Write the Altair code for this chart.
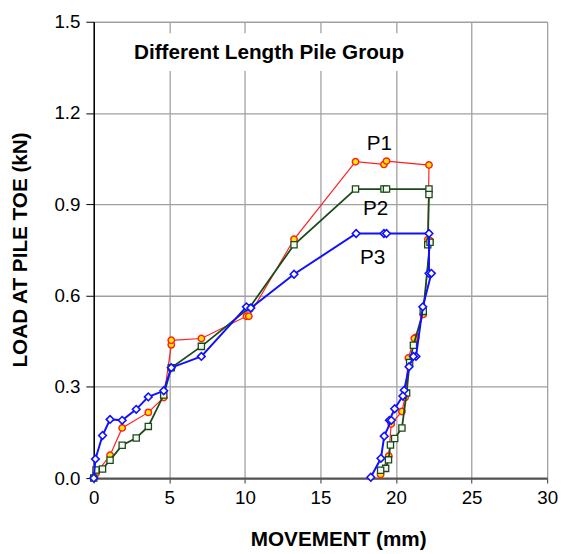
import altair as alt
import pandas as pd

# ---- data ----
p1_mm = [0.0, 0.15, 1.08, 1.88, 3.61, 4.63, 5.13, 5.13, 7.12, 10.1, 10.26, 13.25,
         17.32, 19.2, 19.37, 22.18, 22.11, 22.25, 21.8, 21.3, 21.21, 20.82, 20.6,
         20.39, 19.68, 19.52, 18.98]
p1_kn = [0.0, 0.015, 0.075, 0.165, 0.216, 0.265, 0.438, 0.453, 0.459, 0.532, 0.532, 0.785,
         1.04, 1.031, 1.042, 1.029, 0.784, 0.78, 0.538, 0.462, 0.459, 0.395, 0.265,
         0.219, 0.178, 0.073, 0.012]

p2_mm = [0.0, 0.15, 0.58, 1.08, 1.88, 2.81, 3.61, 4.63, 5.13, 7.12, 10.3, 13.25,
         17.32, 19.2, 19.37, 22.18, 22.18, 22.1, 22.25, 21.8, 21.15, 20.9, 20.7,
         20.39, 19.91, 19.63, 19.5, 19.31, 18.98]
p2_kn = [0.0, 0.027, 0.03, 0.059, 0.108, 0.132, 0.17, 0.273, 0.363, 0.433, 0.56, 0.767,
         0.95, 0.95, 0.95, 0.95, 0.932, 0.767, 0.775, 0.548, 0.437, 0.38, 0.28,
         0.165, 0.13, 0.109, 0.06, 0.032, 0.026]

p3_mm = [0.0, 0.11, 0.58, 1.08, 1.88, 2.81, 3.61, 4.63, 5.13, 7.12, 10.1, 10.39, 13.25,
         17.36, 19.2, 19.37, 22.18, 22.18, 22.34, 21.77, 21.32, 21.15, 20.86, 20.54,
         20.45, 19.91, 19.56, 19.69, 19.22, 19.0, 18.33]
p3_kn = [0.0, 0.0625, 0.14, 0.193, 0.19, 0.226, 0.267, 0.287, 0.363, 0.40, 0.563, 0.559, 0.67,
         0.804, 0.804, 0.804, 0.804, 0.673, 0.673, 0.563, 0.40, 0.40, 0.366, 0.289,
         0.27, 0.228, 0.19, 0.19, 0.138, 0.065, 0.003]

label_text = ["P1", "P2", "P3"]
label_mm = [18.9, 18.65, 18.45]
label_kn = [1.098, 0.884, 0.722]

x_ticks = [0, 5, 10, 15, 20, 25, 30]
y_ticks = [0.0, 0.3, 0.6, 0.9, 1.2, 1.5]

FONT = "Liberation Sans"


def frame(xs, ys, name):
    return pd.DataFrame({"mm": xs, "kn": ys, "i": list(range(len(xs))), "s": name})


d1 = frame(p1_mm, p1_kn, "P1")
d2 = frame(p2_mm, p2_kn, "P2")
d3 = frame(p3_mm, p3_kn, "P3")
labels = pd.DataFrame({"t": label_text, "mm": label_mm, "kn": label_kn})
title_df = pd.DataFrame({"t": ["Different Length Pile Group"], "mm": [11.6], "kn": [1.396]})
box_df = pd.DataFrame({"x1": [2.2], "x2": [21.2], "y1": [1.338], "y2": [1.462]})

xscale = alt.Scale(domain=[0, 30], nice=False, zero=False)
yscale = alt.Scale(domain=[0, 1.5], nice=False, zero=False)

xaxis = alt.Axis(values=x_ticks, title="MOVEMENT (mm)", grid=True, gridColor="#a0a0a0",
                 gridWidth=1.3, domainColor="#555555", domainWidth=2.5, tickColor="#333333",
                 tickSize=5, labelPadding=6, labelFontSize=19, labelFont=FONT, labelColor="black",
                 labelFlush=False, labelOverlap=False,
                 titleFont=FONT, titleFontSize=21, titleFontWeight="bold", titleColor="black",
                 titleX=248, titleY=62, titleBaseline="middle", titleAlign="center")
yaxis = alt.Axis(values=y_ticks, format=".1f", title="LOAD AT PILE TOE (kN)", grid=True,
                 gridColor="#a0a0a0", gridWidth=1.3, domainColor="black", domainWidth=1.5,
                 tickColor="black", tickSize=8, labelPadding=6, labelFontSize=19, labelFont=FONT,
                 labelColor="black", labelFlush=False, labelOverlap=False,
                 titleFont=FONT, titleFontSize=21, titleFontWeight="bold",
                 titleColor="black", titleX=-74, titleY=231, titleBaseline="middle",
                 titleAlign="center", titleAngle=-90)

X = alt.X("mm:Q", scale=xscale, axis=xaxis)
Y = alt.Y("kn:Q", scale=yscale, axis=yaxis)

box = alt.Chart(box_df).mark_rect(fill="white").encode(
    x=alt.X("x1:Q", scale=xscale, axis=xaxis), x2="x2:Q",
    y=alt.Y("y1:Q", scale=yscale, axis=yaxis), y2="y2:Q")

title = alt.Chart(title_df).mark_text(font=FONT, fontSize=21, fontWeight="bold",
                                      color="black", align="center", baseline="middle").encode(
    x=X, y=Y, text="t:N")


def series(df, color, lw, shape, fill, size, sw):
    line = alt.Chart(df).mark_line(color=color, strokeWidth=lw).encode(x=X, y=Y, order="i:Q")
    pts = alt.Chart(df).mark_point(shape=shape, filled=True, fill=fill, stroke=color,
                                   strokeWidth=sw, size=size, opacity=1).encode(x=X, y=Y)
    return line + pts


s1 = series(d1, "#ff2020", 1.2, "circle", "#ffe800", 42, 1.5)
s2 = series(d2, "#1a4a1a", 1.8, "square", "#f4f8f0", 40, 1.3)
s3 = series(d3, "#1010ff", 2.0, "diamond", "white", 60, 1.6)

lab = alt.Chart(labels).mark_text(font=FONT, fontSize=21, color="black", align="center",
                                  baseline="middle").encode(x=X, y=Y, text="t:N")

chart = alt.layer(box, title, s1, s2, s3, lab).properties(
    width=460, height=463,
    autosize=alt.AutoSizeParams(type="none"),
    padding={"left": 87, "top": 10, "right": 12, "bottom": 70},
    background="white",
).configure_view(stroke=None)

chart.save("out.html", embed_options={"renderer": "svg", "actions": False})
